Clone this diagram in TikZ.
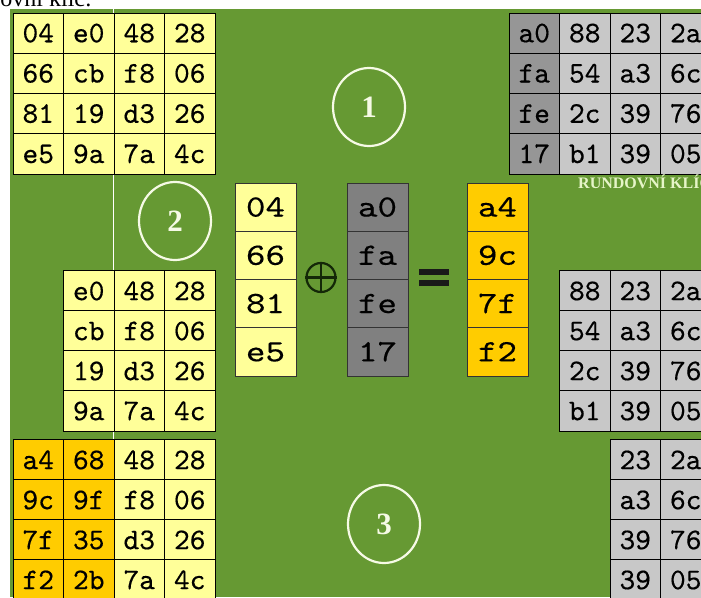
\documentclass[tikz,border=0pt]{standalone}
\usepackage{fontspec}
\setmainfont{Liberation Serif}
\newfontfamily\cellfont[FakeBold=0.35]{lmmono10-regular.otf}
\usepackage{graphicx}
\usetikzlibrary{shapes.geometric}
\definecolor{bggreen}{HTML}{669933}
\definecolor{pyellow}{HTML}{FFFF99}
\definecolor{orangec}{HTML}{FFCC00}
\definecolor{lgray}{HTML}{C8C8C8}
\definecolor{kgray}{HTML}{969696}
\definecolor{mgray}{HTML}{808080}
\definecolor{cream}{HTML}{F6FAE6}
\definecolor{labcol}{HTML}{E6F5C8}
\definecolor{symcol}{HTML}{142808}
\newcommand\wide[1]{\scalebox{1.2}[1]{#1}}
\begin{document}
\begin{tikzpicture}[x=1pt,y=-1pt,
  cell/.style={draw=black, line width=0.8pt, minimum width=50.5pt, minimum height=40.25pt,
    inner sep=0pt, font=\cellfont\fontsize{30}{30}\selectfont, text height=18.3pt, text depth=0pt},
  ycell/.style={cell, fill=pyellow},
  ocell/.style={cell, fill=orangec},
  gcell/.style={cell, fill=lgray},
  kcell/.style={cell, fill=kgray},
  mcell/.style={draw=black!80, line width=0.8pt, minimum width=61pt, minimum height=48.25pt,
    inner sep=0pt, font=\cellfont\fontsize{31}{31}\selectfont, text height=18.9pt, text depth=0pt},
  numcirc/.style={ellipse, draw=cream, line width=2.2pt, minimum width=72pt, minimum height=78pt,
    inner sep=0pt, text=cream, font=\bfseries\fontsize{31}{31}\selectfont}
]
\useasboundingbox (0,0) rectangle (701,597);
\clip (0,0) rectangle (701,597);
\fill[white] (0,0) rectangle (701,597);
\fill[bggreen] (10,9) rectangle (701,597);
\node[anchor=base east, inner sep=0pt, font=\fontsize{24}{26}\selectfont] (title) at (92,6) {Rundovní klíč:};
\draw[white, line width=1pt] (113.5,9) -- (113.5,597);

% top-left state
\foreach \a/\b/\c/\d [count=\r from 0] in {04/e0/48/28, 66/cb/f8/06, 81/19/d3/26, e5/9a/7a/4c} {
  \node[ycell] (A\r-1) at (38.25,{33.125+40.25*\r}) {\a};
  \node[ycell] (A\r-2) at (88.75,{33.125+40.25*\r}) {\b};
  \node[ycell] (A\r-3) at (139.25,{33.125+40.25*\r}) {\c};
  \node[ycell] (A\r-4) at (189.75,{33.125+40.25*\r}) {\d};
}
% top-right round key
\foreach \a/\b/\c/\d [count=\r from 0] in {a0/88/23/2a, fa/54/a3/6c, fe/2c/39/76, 17/b1/39/05} {
  \node[kcell] (D\r-1) at (534.25,{33.125+40.25*\r}) {\a};
  \node[gcell] (D\r-2) at (584.75,{33.125+40.25*\r}) {\b};
  \node[gcell] (D\r-3) at (635.25,{33.125+40.25*\r}) {\c};
  \node[gcell] (D\r-4) at (685.75,{33.125+40.25*\r}) {\d};
}
\node[anchor=base west, inner sep=0pt, text=labcol, font=\bfseries\fontsize{16}{16}\selectfont] (keylab) at (578,188.5) {RUNDOVNÍ KLÍČ};

% middle-left state
\foreach \b/\c/\d [count=\r from 0] in {e0/48/28, cb/f8/06, 19/d3/26, 9a/7a/4c} {
  \node[ycell] (B\r-2) at (88.75,{291+40*\r}) {\b};
  \node[ycell] (B\r-3) at (139.25,{291+40*\r}) {\c};
  \node[ycell] (B\r-4) at (189.75,{291+40*\r}) {\d};
}
% middle-right key
\foreach \b/\c/\d [count=\r from 0] in {88/23/2a, 54/a3/6c, 2c/39/76, b1/39/05} {
  \node[gcell] (E\r-2) at (584.75,{291+40*\r}) {\b};
  \node[gcell] (E\r-3) at (635.25,{291+40*\r}) {\c};
  \node[gcell] (E\r-4) at (685.75,{291+40*\r}) {\d};
}
% bottom-left state
\foreach \a/\b/\c/\d [count=\r from 0] in {a4/68/48/28, 9c/9f/f8/06, 7f/35/d3/26, f2/2b/7a/4c} {
  \node[ocell] (C\r-1) at (38.25,{460+40*\r}) {\a};
  \node[ocell] (C\r-2) at (88.75,{460+40*\r}) {\b};
  \node[ycell] (C\r-3) at (139.25,{460+40*\r}) {\c};
  \node[ycell] (C\r-4) at (189.75,{460+40*\r}) {\d};
}
% bottom-right key
\foreach \c/\d [count=\r from 0] in {23/2a, a3/6c, 39/76, 39/05} {
  \node[gcell] (F\r-3) at (635.25,{460+40*\r}) {\c};
  \node[gcell] (F\r-4) at (685.75,{460+40*\r}) {\d};
}

% middle operation
\foreach \a/\b/\c [count=\r from 0] in {04/a0/a4, 66/fa/9c, 81/fe/7f, e5/17/f2} {
  \node[mcell, fill=pyellow] (K\r) at (265.5,{207.1+48.25*\r}) {\wide{\a}};
  \node[mcell, fill=mgray] (L\r) at (377.5,{207.1+48.25*\r}) {\wide{\b}};
  \node[mcell, fill=orangec] (M\r) at (497.5,{207.1+48.25*\r}) {\wide{\c}};
}
\node[circle, draw=symcol, line width=2.2pt, minimum size=29pt, inner sep=0pt] (xor) at (321,277.5) {};
\draw[symcol, line width=2.2pt] (xor.north) -- (xor.south) (xor.west) -- (xor.east);
\node[minimum width=30pt, minimum height=16pt, inner sep=0pt] (eq) at (434,277.5) {};
\fill[black!90] (eq.north west) rectangle ([yshift=-5.5pt]eq.north east);
\fill[black!90] ([yshift=5.5pt]eq.south west) rectangle (eq.south east);

% step numbers
\node[numcirc] (n1) at (369,107) {1};
\node[numcirc] (n2) at (175,221) {2};
\node[numcirc] (n3) at (384,524) {3};
\end{tikzpicture}
\end{document}
